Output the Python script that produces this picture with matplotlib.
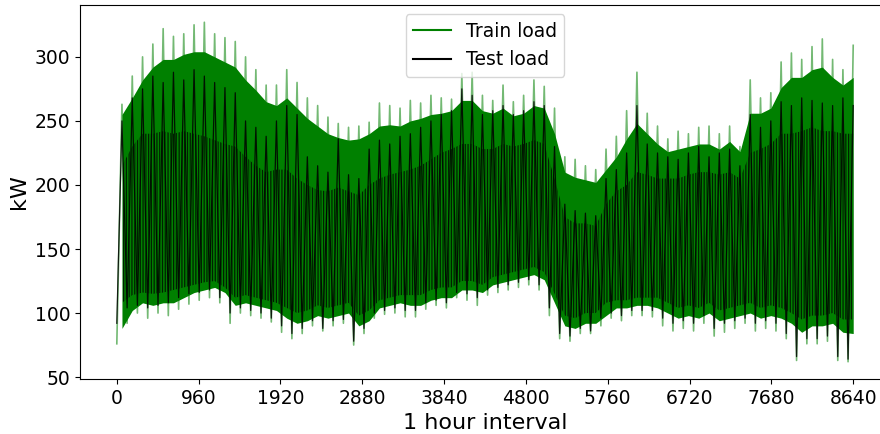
import numpy as np
import matplotlib.pyplot as plt

# per 120-hour block (kW)
# extremes of the daily swing in each block
train_hi = [263, 285, 300, 310, 322, 316, 318, 325, 327, 318, 315, 312,
            300, 290, 278, 278, 290, 280, 268, 262, 253, 248, 245, 246,
            249, 264, 262, 260, 266, 264, 270, 268, 267, 287, 288, 270,
            266, 278, 265, 270, 282, 277, 260, 222, 220, 215, 212, 228,
            238, 258, 288, 256, 246, 236, 242, 240, 245, 246, 240, 246,
            230, 282, 268, 272, 296, 303, 298, 308, 314, 298, 290, 309]
train_lo = [76, 92, 100, 96, 100, 98, 103, 107, 110, 112, 108, 92,
            100, 98, 96, 93, 85, 80, 84, 90, 86, 90, 92, 75,
            84, 96, 99, 100, 97, 97, 103, 106, 104, 112, 110, 106,
            114, 116, 118, 120, 122, 118, 98, 80, 78, 84, 84, 90,
            96, 94, 98, 98, 97, 90, 86, 88, 86, 92, 82, 85,
            88, 92, 86, 88, 86, 80, 63, 76, 76, 78, 63, 62]
# where most days sit (solid part of the band)
train_top = [255, 268, 282, 292, 298, 298, 302, 304, 304, 300, 296, 292,
             282, 274, 265, 262, 268, 260, 252, 246, 240, 237, 235, 236,
             240, 246, 247, 246, 250, 252, 255, 256, 258, 266, 266, 258,
             256, 260, 254, 256, 262, 260, 240, 210, 206, 204, 202, 212,
             222, 236, 248, 240, 232, 226, 228, 230, 232, 232, 228, 234,
             226, 256, 256, 260, 276, 284, 284, 290, 292, 284, 278, 284]
train_bottom = [88, 102, 108, 106, 108, 108, 112, 116, 118, 120, 116, 106,
                108, 106, 104, 102, 96, 92, 94, 98, 96, 98, 100, 90,
                94, 104, 106, 108, 106, 106, 110, 112, 112, 118, 118, 116,
                122, 124, 126, 128, 130, 126, 108, 90, 88, 92, 92, 98,
                104, 104, 106, 106, 104, 100, 96, 98, 96, 100, 94, 96,
                98, 100, 96, 98, 96, 92, 85, 90, 90, 92, 85, 84]

test_hi = [250, 268, 275, 285, 280, 288, 282, 290, 285, 280, 276, 272,
           250, 245, 238, 250, 262, 255, 222, 215, 210, 236, 208, 205,
           228, 235, 232, 238, 240, 245, 250, 255, 258, 275, 270, 255,
           258, 262, 255, 258, 265, 262, 230, 185, 180, 178, 176, 205,
           212, 225, 262, 232, 225, 222, 220, 225, 230, 222, 225, 228,
           215, 255, 245, 250, 265, 262, 268, 266, 264, 262, 268, 262]
test_lo = [92, 104, 106, 104, 106, 108, 112, 115, 116, 118, 112, 100,
           104, 102, 100, 96, 90, 84, 88, 94, 88, 94, 95, 78,
           88, 100, 102, 104, 102, 102, 108, 110, 108, 116, 115, 112,
           118, 120, 122, 124, 126, 122, 104, 84, 82, 88, 86, 96,
           100, 98, 102, 102, 102, 96, 92, 94, 92, 98, 88, 92,
           94, 96, 92, 94, 92, 84, 66, 80, 80, 82, 66, 64]
test_top = [215, 230, 240, 240, 242, 240, 242, 240, 238, 235, 232, 230,
            222, 215, 210, 212, 212, 205, 200, 196, 195, 198, 195, 192,
            200, 205, 208, 210, 212, 215, 220, 225, 228, 232, 232, 228,
            228, 232, 230, 232, 235, 232, 205, 175, 170, 170, 168, 185,
            195, 200, 210, 208, 205, 205, 205, 208, 210, 210, 208, 210,
            205, 225, 228, 232, 240, 240, 242, 245, 242, 242, 240, 240]
test_bottom = [108, 114, 116, 115, 116, 118, 120, 122, 124, 125, 120, 112,
               114, 112, 110, 108, 104, 100, 102, 106, 104, 106, 108, 98,
               102, 110, 112, 114, 114, 114, 118, 120, 120, 125, 125, 122,
               128, 130, 132, 134, 136, 132, 115, 98, 96, 100, 100, 108,
               110, 110, 112, 112, 112, 108, 104, 106, 104, 108, 102, 104,
               106, 108, 104, 106, 104, 100, 95, 98, 98, 100, 95, 95]

xtick_vals = list(range(0, 8641, 960))

n = len(train_hi)
hours = np.linspace(0, 8640, 2 * n)
hi_x = hours[1::2]


def zigzag(lo, hi):
    y = np.empty(2 * len(lo))
    y[0::2] = lo
    y[1::2] = hi
    return y


plt.rcParams['hatch.linewidth'] = 0.9

fig = plt.figure(figsize=(8.8, 4.34), dpi=100)
ax = fig.add_axes([0.0909, 0.1267, 0.9205, 0.8618])

# train load: solid band + daily swing reaching the extremes
ax.fill_between(hi_x, train_bottom, train_top, color='green', lw=0)
ax.plot(hours, zigzag(train_lo, train_hi), color='green', lw=1.2, alpha=0.55)
ax.plot([], [], color='green', lw=1.5, label='Train load')

# test load drawn over it
ax.fill_between(hi_x, test_bottom, test_top, facecolor='none', edgecolor='black',
                hatch='||||||', lw=0, alpha=0.75)
ax.plot(hours, zigzag(test_lo, test_hi), color='black', lw=0.9, alpha=0.85)
ax.plot([], [], color='black', lw=1.5, label='Test load')

ax.set_xlim(-432, 9072)
ax.set_ylim(48.5, 340.5)
ax.set_xticks(xtick_vals)
ax.tick_params(labelsize=13.5)
ax.set_xlabel('1 hour interval', fontsize=16)
ax.set_ylabel('kW', fontsize=16)
ax.legend(loc='upper center', fontsize=13.5)

fig.savefig('out.png')
